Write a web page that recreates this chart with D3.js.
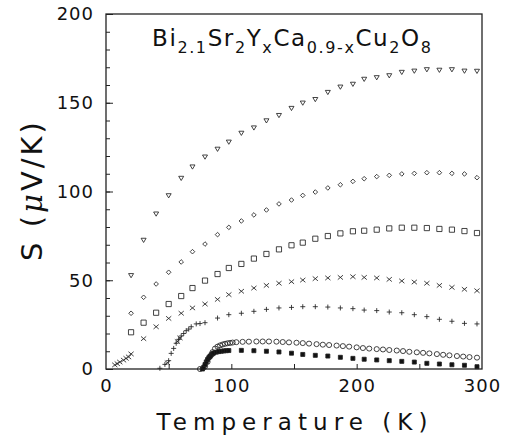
<!DOCTYPE html>
<html>
<head>
<meta charset="utf-8">
<script src="https://cdn.jsdelivr.net/npm/d3@7"></script>
<style>
  body { margin: 0; background: #fff; }
  svg { display: block; }
  text { font-family: "DejaVu Sans", sans-serif; fill: #111; }
</style>
</head>
<body>
<svg id="chart" width="510" height="442"></svg>
<script>
// temperatures shared by the 10 K series
const tMain = [20, 30, 40, 50, 60, 69, 79, 89, 98, 108, 118, 128, 138, 148, 157,
  167, 177, 187, 197, 206, 216, 226, 236, 246, 256, 266, 276, 286, 296];

const sTriangle = [52.8, 72.7, 87.5, 97.8, 107.6, 114, 119.6, 124, 128, 133, 136, 140,
  143, 147, 150, 152, 156, 159, 160.6, 163.4, 164.3, 165.4, 167.3, 168, 168.8, 168.5,
  168.8, 168, 167.9];
const sDiamond = [31.4, 40.4, 47.9, 54.5, 60.3, 66.1, 70.4, 75.7, 79.8, 83.4, 86.8, 89.6,
  93, 95.2, 97.8, 99.7, 102, 103.8, 105.7, 107.2, 108.4, 109.1, 109.9, 110.2, 110.6,
  110.6, 110.2, 109.9, 107.8];
const sSquare = [20.7, 26.1, 31.7, 36.6, 41.1, 45.6, 49.8, 53.5, 56.9, 59.2, 62.2, 64.8,
  67.4, 69.7, 71.2, 73.4, 74.9, 76.4, 77.6, 77.9, 78.5, 79.2, 79.6, 79.6, 79.4, 78.9,
  78.5, 77.7, 76.6];

const tCross = [7, 9, 11, 14, 16, 18, 20, 30, 40, 49, 50, 57, 59, 60, 69, 79, 89, 98, 108,
  118, 128, 138, 148, 157, 167, 177, 187, 197, 206, 216, 226, 236, 246, 256, 266, 276, 286, 296];
const sCross = [2.3, 3, 3.9, 5, 6, 6.8, 8.5, 17.1, 23.8, 3.5, 28.5, 15.5, 17.5, 31.4, 34.4,
  36.6, 39.2, 41.9, 43.8, 45.6, 47.1, 48.3, 49.2, 50.1, 50.9, 51.3, 51.6, 52, 51.6, 51.3,
  50.5, 49.6, 49, 48.3, 47.1, 46, 44.9, 44.1];

const tPlus = [43, 47, 50, 52, 54, 56, 58, 60, 62, 64, 66, 68, 72, 75, 79, 89, 98, 108, 118,
  128, 138, 148, 157, 167, 177, 187, 197, 206, 216, 226, 236, 246, 256, 266, 276, 286, 296];
const sPlus = [0.4, 2.6, 4.7, 8.8, 11.6, 14.5, 16.7, 18.6, 20, 21.6, 22.5, 23.8, 25.4, 25.6,
  26.1, 28.7, 30.6, 31.4, 32.5, 33.6, 34.4, 34.7, 35.1, 35.1, 34.9, 34.4, 34, 33.2, 32.9,
  32.1, 31.7, 30.6, 29.5, 28, 26.9, 25.7, 25.4];

const tCircle = [75, 79, 81, 83, 85, 87, 89, 91, 93, 95, 97, 99, 101, 104, 109, 114, 120,
  125, 130, 136, 141, 146, 152, 157, 162, 168, 173, 178, 184, 189, 194, 200, 205, 210,
  216, 221, 226, 232, 237, 242, 248, 253, 258, 264, 269, 274, 280, 285, 290, 296];
const sCircle = [0, 1.5, 4, 7, 9.5, 11.5, 12.6, 13.3, 13.8, 14.2, 14.5, 14.7, 14.9, 15.1,
  15.3, 15.4, 15.5, 15.5, 15.5, 15.4, 15.2, 15, 14.8, 14.6, 14.3, 14, 13.7, 13.5, 13.2,
  12.9, 12.6, 12.2, 11.8, 11.5, 11.2, 11, 10.7, 10.4, 10.1, 9.7, 9.4, 9.1, 8.8, 8.4, 8,
  7.7, 7.3, 7, 6.7, 6.4];

const tFilled = [77, 78, 79, 80, 81, 82, 83, 84, 85, 86, 88, 90, 92, 94, 96, 98, 108, 118,
  128, 138, 148, 157, 167, 177, 187, 197, 206, 216, 226, 236, 246, 256, 266, 276, 286, 296];
const sFilled = [0, 1, 2.5, 4, 5.3, 6.3, 7.2, 8, 8.6, 9, 9.5, 9.8, 10, 10.2, 10.3, 10.4,
  10.5, 10.3, 10, 9.6, 8.9, 8.2, 7.7, 7.3, 6.6, 6, 5.5, 5.1, 4.7, 4.3, 3.9, 3.2, 2.8,
  2.4, 2.1, 1.3];

const xTicks = [0, 100, 200, 300];
const yTicks = [0, 50, 100, 150, 200];

const margin = { top: 14, right: 28, bottom: 73, left: 106 };
const width = 510, height = 442;

const svg = d3.select('#chart');

const x = d3.scaleLinear().domain([0, 300]).range([margin.left, width - margin.right]);
const y = d3.scaleLinear().domain([0, 200]).range([height - margin.bottom, margin.top]);

// y axis: minor ticks every 10, labelled ticks every 50 (ticks point inward)
svg.append('g')
  .attr('transform', `translate(${margin.left},0)`)
  .call(d3.axisLeft(y).tickValues(d3.range(0, 201, 10)).tickSizeInner(-4).tickSizeOuter(0).tickFormat(''))
  .call(g => g.select('.domain').remove());

svg.append('g')
  .attr('transform', `translate(${margin.left},0)`)
  .call(d3.axisLeft(y).tickValues(yTicks).tickSizeInner(-7).tickSizeOuter(0).tickPadding(12))
  .call(g => g.select('.domain').remove())
  .call(g => g.selectAll('text').style('font-size', '18px').style('letter-spacing', '1px')
    .attr('font-family', null));

// x axis
svg.append('g')
  .attr('transform', `translate(0,${height - margin.bottom})`)
  .call(d3.axisBottom(x).tickValues([50, 100, 150, 200, 250]).tickSizeInner(-5).tickSizeOuter(0).tickFormat(''))
  .call(g => g.select('.domain').remove());

svg.append('g')
  .attr('transform', `translate(0,${height - margin.bottom})`)
  .call(d3.axisBottom(x).tickValues(xTicks).tickSize(0).tickPadding(10))
  .call(g => g.select('.domain').remove())
  .call(g => g.selectAll('text').style('font-size', '18px').style('letter-spacing', '1px')
    .attr('font-family', null));

svg.selectAll('.tick line').attr('stroke', '#222').attr('stroke-width', 1);

// frame
svg.append('rect')
  .attr('x', margin.left)
  .attr('y', margin.top)
  .attr('width', width - margin.left - margin.right)
  .attr('height', height - margin.top - margin.bottom)
  .attr('fill', 'none')
  .attr('stroke', '#222')
  .attr('stroke-width', 1.3);

// marker shapes
const shapes = {
  triangle: 'M-2.5,-1.7L2.5,-1.7L0,2.5Z',
  diamond: 'M0,-2.3L2.3,0L0,2.3L-2.3,0Z',
  square: 'M-2.6,-2.6H2.6V2.6H-2.6Z',
  cross: 'M-2.6,-2.2L2.6,2.2M-2.6,2.2L2.6,-2.2',
  plus: 'M-2.5,0H2.5M0,-2.5V2.5',
  circle: 'M-2.6,0A2.6,2.5 0 1,0 2.6,0A2.6,2.5 0 1,0 -2.6,0Z',
  filled: 'M-2,-2H2V2H-2Z'
};

const series = [
  { t: tMain, s: sTriangle, shape: 'triangle', fill: 'none' },
  { t: tMain, s: sDiamond, shape: 'diamond', fill: 'none' },
  { t: tMain, s: sSquare, shape: 'square', fill: 'none' },
  { t: tCross, s: sCross, shape: 'cross', fill: 'none' },
  { t: tPlus, s: sPlus, shape: 'plus', fill: 'none' },
  { t: tCircle, s: sCircle, shape: 'circle', fill: 'none' },
  { t: tFilled, s: sFilled, shape: 'filled', fill: '#111' }
];

series.forEach(ser => {
  const pts = ser.t.map((t, i) => [t, ser.s[i]]);
  svg.append('g')
    .selectAll('path')
    .data(pts)
    .enter()
    .append('path')
    .attr('transform', d => `translate(${x(d[0])},${y(d[1])})`)
    .attr('d', shapes[ser.shape])
    .attr('fill', ser.fill)
    .attr('stroke', '#222')
    .attr('stroke-width', 0.85);
});

// formula in the top of the plot
const formula = svg.append('text')
  .attr('x', 152)
  .attr('y', 46)
  .style('font-size', '23px')
  .style('letter-spacing', '1.6px');
[
  ['Bi', false], ['2.1', true], ['Sr', false], ['2', true], ['Y', false], ['x', true],
  ['Ca', false], ['0.9-x', true], ['Cu', false], ['2', true], ['O', false], ['8', true]
].forEach(([txt, sub]) => {
  const ts = formula.append('tspan').text(txt);
  if (sub) ts.attr('dy', 7).style('font-size', '16px');
  else ts.attr('dy', formula.selectAll('tspan').size() > 1 ? -7 : 0);
});

// axis titles
svg.append('text')
  .attr('x', 292)
  .attr('y', 430)
  .attr('text-anchor', 'middle')
  .attr('textLength', 271)
  .attr('lengthAdjust', 'spacing')
  .style('font-size', '23px')
  .text('Temperature (K)');

const yTitle = svg.append('text')
  .attr('transform', 'translate(42,190) rotate(-90)')
  .attr('text-anchor', 'middle')
  .style('font-size', '29px')
  .style('letter-spacing', '3px');
yTitle.append('tspan').text('S (');
yTitle.append('tspan').style('font-style', 'italic').attr('font-family', 'DejaVu Serif').text('μ');
yTitle.append('tspan').text('V/K)');
</script>
</body>
</html>
